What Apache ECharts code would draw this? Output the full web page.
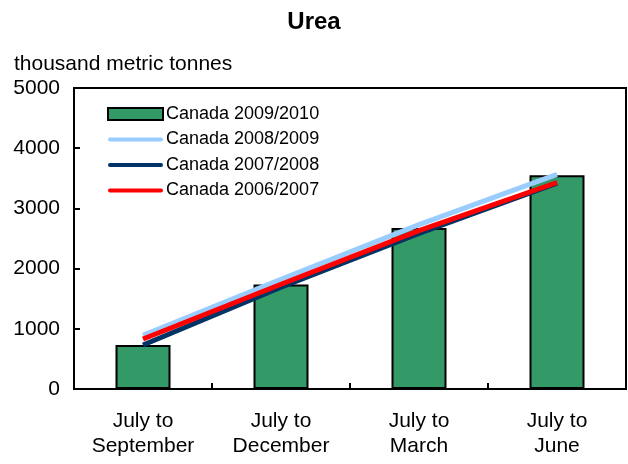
<!DOCTYPE html>
<html>
<head>
<meta charset="utf-8">
<script src="https://cdn.jsdelivr.net/npm/echarts@6/dist/echarts.min.js"></script>
<style>
html,body{margin:0;padding:0;background:#fff;}
#chart{width:628px;height:464px;}
</style>
</head>
<body>
<div id="chart"></div>
<script>
var categories = ['July to\nSeptember', 'July to\nDecember', 'July to\nMarch', 'July to\nJune'];
var canada0910 = [730, 1735, 2675, 3550];
var canada0809 = [890, 1820, 2730, 3565];
var canada0708 = [730, 1690, 2585, 3420];
var canada0607 = [830, 1740, 2630, 3430];
var yTicks = [0, 1000, 2000, 3000, 4000, 5000];

var FONT = 'Liberation Sans, Arial, Helvetica, sans-serif';
var LINE_ICON = 'path://M2,0 L53,0 A2,2 0 0 1 53,4 L2,4 A2,2 0 0 1 2,0 Z';
var chart = echarts.init(document.getElementById('chart'), null, {renderer: 'canvas'});
chart.setOption({
  animation: false,
  backgroundColor: '#fff',
  textStyle: {fontFamily: FONT},
  title: [
    {text: 'Urea', left: 'center', top: 5, textStyle: {fontFamily: FONT, fontSize: 24, fontWeight: 'bold', color: '#000'}},
    {text: 'thousand metric tonnes', left: 9, top: 49, textStyle: {fontFamily: FONT, fontSize: 21, fontWeight: 'normal', color: '#000'}}
  ],
  legend: {
    orient: 'vertical', left: 102, top: 100, itemGap: 7.5,
    itemWidth: 55, itemHeight: 12, symbolKeepAspect: true,
    textStyle: {fontFamily: FONT, fontSize: 18, color: '#000', padding: [0, 0, 0, -2]},
    data: [
      {name: 'Canada 2009/2010', icon: 'rect'},
      {name: 'Canada 2008/2009', icon: LINE_ICON},
      {name: 'Canada 2007/2008', icon: LINE_ICON},
      {name: 'Canada 2006/2007', icon: LINE_ICON}
    ]
  },
  grid: {left: 74, right: 2, top: 88, bottom: 75, show: true, borderColor: '#000', borderWidth: 2, backgroundColor: 'transparent'},
  xAxis: {
    type: 'category', data: categories, boundaryGap: true,
    axisLine: {lineStyle: {color: '#000', width: 2}},
    axisTick: {show: true, inside: true, length: 6, lineStyle: {color: '#000', width: 2}},
    axisLabel: {color: '#000', fontFamily: FONT, fontSize: 21, lineHeight: 25, margin: 20}
  },
  yAxis: {
    type: 'value', min: yTicks[0], max: yTicks[yTicks.length - 1], interval: 1000,
    axisLine: {show: true, lineStyle: {color: '#000', width: 2}},
    axisTick: {show: true, inside: true, length: 6, lineStyle: {color: '#000', width: 2}},
    splitLine: {show: false},
    axisLabel: {color: '#000', fontFamily: FONT, fontSize: 21, margin: 14, formatter: function (v) { return String(v); }}
  },
  series: [
    {name: 'Canada 2009/2010', type: 'bar', data: canada0910, barWidth: 55,
     itemStyle: {color: '#339966', borderColor: '#000', borderWidth: 2}},
    {name: 'Canada 2008/2009', type: 'line', data: canada0809, symbol: 'none',
     lineStyle: {color: '#99CCFF', width: 5}, itemStyle: {color: '#99CCFF'}},
    {name: 'Canada 2007/2008', type: 'line', data: canada0708, symbol: 'none',
     lineStyle: {color: '#003366', width: 5}, itemStyle: {color: '#003366'}},
    {name: 'Canada 2006/2007', type: 'line', data: canada0607, symbol: 'none',
     lineStyle: {color: '#FF0000', width: 5}, itemStyle: {color: '#FF0000'}}
  ]
});
</script>
</body>
</html>
